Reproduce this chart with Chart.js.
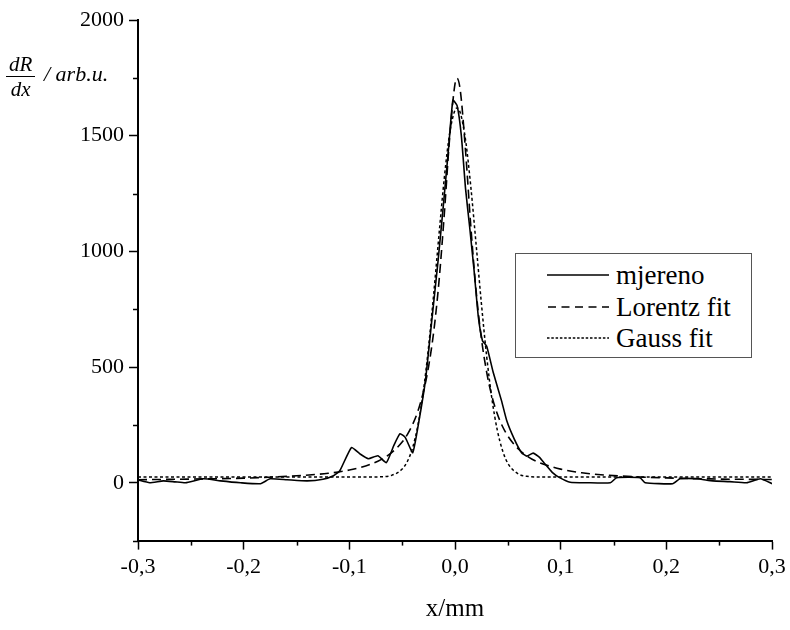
<!DOCTYPE html>
<html><head><meta charset="utf-8">
<script src="https://cdn.jsdelivr.net/npm/chart.js@4.4.0/dist/chart.umd.min.js"></script>
<style>
html,body{margin:0;padding:0;background:#fff;}
#wrap{position:relative;width:790px;height:630px;overflow:hidden;}
#c{position:absolute;left:0;top:0;}
.serif{font-family:"Liberation Serif",Tinos,"Times New Roman","DejaVu Serif",serif;color:#000;}
#frac{position:absolute;left:6px;top:53px;font-style:italic;font-size:21px;text-align:center;line-height:22px;}
#frac .num{border-bottom:1.3px solid #000;padding:0 3px 1px 3px;}
#frac .den{padding-top:1px;}
#unit{position:absolute;left:44px;top:61px;font-style:italic;font-size:22px;white-space:nowrap;}
#legend{position:absolute;left:515px;top:253px;width:237px;height:105px;border:1.5px solid #555;box-sizing:border-box;background:#fff;}
.row{position:absolute;left:31px;height:30px;display:flex;align-items:center;font-size:27px;white-space:nowrap;}
.row svg{margin-right:7px;}
</style></head>
<body>
<div id="wrap">
<canvas id="c" width="790" height="630"></canvas>
<div id="frac" class="serif"><div class="num">dR</div><div class="den">dx</div></div>
<div id="unit" class="serif">/ arb.u.</div>
<div id="legend" class="serif">
  <div class="row" style="top:6px;"><svg width="62" height="10"><line x1="0" y1="5" x2="62" y2="5" stroke="#000" stroke-width="1.6"/></svg>mjereno</div>
  <div class="row" style="top:38px;"><svg width="62" height="10"><line x1="1" y1="5" x2="62" y2="5" stroke="#000" stroke-width="1.6" stroke-dasharray="8,5.5"/></svg>Lorentz fit</div>
  <div class="row" style="top:69px;"><svg width="62" height="10"><line x1="0" y1="5" x2="62" y2="5" stroke="#000" stroke-width="1.5" stroke-dasharray="2.5,1.8"/></svg>Gauss fit</div>
</div>
</div>
<script>
// ---- data ----
const seriesNames = ['mjereno', 'Lorentz fit', 'Gauss fit'];
const xMeasured = [-0.300,-0.289,-0.276,-0.265,-0.255,-0.238,-0.222,-0.203,-0.184,-0.175,-0.159,-0.140,-0.125,-0.115,-0.109,-0.098,-0.090,-0.082,-0.073,-0.065,-0.058,-0.052,-0.047,-0.040,-0.034,-0.028,-0.022,-0.016,-0.011,-0.006,-0.002,0.002,0.006,0.010,0.014,0.018,0.022,0.026,0.030,0.036,0.044,0.049,0.056,0.063,0.068,0.074,0.080,0.085,0.092,0.099,0.109,0.125,0.147,0.153,0.175,0.180,0.206,0.213,0.229,0.244,0.260,0.276,0.289,0.300];
const yMeasured = [12,0,8,4,0,17,8,0,-4,17,13,8,15,30,52,152,125,104,117,87,160,212,195,130,270,441,700,960,1200,1450,1654,1630,1500,1270,1100,920,720,614,590,480,355,268,190,130,115,128,110,82,45,22,2,0,0,22,22,0,-4,17,17,8,5,0,17,-4];
const xFit = [-0.3,-0.25,-0.2,-0.15,-0.12,-0.1,-0.08,-0.07,-0.06,-0.05,-0.045,-0.04,-0.035,-0.03,-0.025,-0.02,-0.015,-0.01,-0.005,0,0.002,0.005,0.01,0.015,0.02,0.025,0.03,0.035,0.04,0.045,0.05,0.06,0.07,0.08,0.1,0.12,0.15,0.2,0.25,0.3];
const yLorentz = [13,16,20,30,41,55,80,100,130,176,209,253,311,391,502,658,878,1169,1495,1724,1748,1696,1433,1106,828,623,477,373,298,243,202,146,110,87,59,43,31,21,16,14];
const yGauss = [25,25,25,25,25,25,25,26,32,59,93,153,251,394,588,824,1080,1323,1512,1611,1620,1599,1481,1278,1029,774,545,361,228,139,84,38,27,25,25,25,25,25,25,25];
const xTickMin = -0.3, xTickMax = 0.3, xTickStep = 0.05;
const yTickMin = -250, yTickMax = 2000, yTickStep = 250;
const xTitle = 'x/mm';

const pts = (xs, ys) => xs.map((x, i) => ({x: x, y: ys[i]}));
const FONT = '"Liberation Serif", Tinos, "Times New Roman", "DejaVu Serif", serif';

const minorTicks = {
  id: 'minorTicks',
  afterDraw(chart) {
    const ctx = chart.ctx;
    ctx.save();
    ctx.strokeStyle = '#000';
    ctx.lineWidth = 1.5;
    const xs = chart.scales.x, ys = chart.scales.y;
    xs.ticks.forEach(t => {
      if (t.label === '' ) {
        const p = Math.round(xs.getPixelForValue(t.value)) + 0.5;
        ctx.beginPath(); ctx.moveTo(p, xs.top); ctx.lineTo(p, xs.top + 5); ctx.stroke();
      }
    });
    ys.ticks.forEach(t => {
      if (t.label === '') {
        const p = Math.round(ys.getPixelForValue(t.value)) + 0.5;
        ctx.beginPath(); ctx.moveTo(ys.right, p); ctx.lineTo(ys.right - 5, p); ctx.stroke();
      }
    });
    ctx.restore();
  }
};

function draw() {
new Chart(document.getElementById('c'), {
  type: 'line',
  data: {
    datasets: [
      {label: seriesNames[0], data: pts(xMeasured, yMeasured), borderColor: '#000', borderWidth: 1.6, pointRadius: 0, tension: 0.15, fill: false},
      {label: seriesNames[1], data: pts(xFit, yLorentz), borderColor: '#000', borderWidth: 1.6, borderDash: [9, 5], pointRadius: 0, cubicInterpolationMode: 'monotone', fill: false},
      {label: seriesNames[2], data: pts(xFit, yGauss), borderColor: '#000', borderWidth: 1.5, borderDash: [3, 2.5], pointRadius: 0, cubicInterpolationMode: 'monotone', fill: false}
    ]
  },
  options: {
    responsive: false,
    animation: false,
    layout: {padding: {top: 20, right: 18, left: 0, bottom: 6}},
    plugins: {legend: {display: false}, tooltip: {enabled: false}},
    scales: {
      x: {
        type: 'linear', min: xTickMin, max: xTickMax,
        ticks: {
          stepSize: xTickStep, autoSkip: false, maxRotation: 0, padding: 4,
          color: '#000', font: {family: FONT, size: 22},
          callback: v => { const k = Math.round(v * 100); return k % 10 === 0 ? (k / 100).toFixed(1).replace('.', ',') : ''; }
        },
        grid: {drawOnChartArea: false, drawTicks: true, tickLength: 9, tickWidth: 1.5,
               tickColor: c => (c.tick && c.tick.label !== '') ? '#000' : 'rgba(0,0,0,0)'},
        border: {display: true, color: '#000', width: 2},
        title: {display: true, text: xTitle, color: '#000', font: {family: FONT, size: 25}, padding: {top: 10, bottom: 0}}
      },
      y: {
        type: 'linear', min: yTickMin, max: yTickMax,
        ticks: {
          stepSize: yTickStep, autoSkip: false, padding: 5,
          color: '#000', font: {family: FONT, size: 22},
          callback: v => (v % 500 === 0 ? String(v) : '')
        },
        grid: {drawOnChartArea: false, drawTicks: true, tickLength: 9, tickWidth: 1.5,
               tickColor: c => (c.tick && c.tick.label !== '') ? '#000' : 'rgba(0,0,0,0)'},
        border: {display: true, color: '#000', width: 2},
        afterFit: s => { s.width = 138; }
      }
    }
  },
  plugins: [minorTicks]
});
}
if (document.fonts && document.fonts.load) {
  Promise.all([
    document.fonts.load('20px "Liberation Serif"'),
    document.fonts.load('italic 20px "Liberation Serif"')
  ]).then(draw, draw);
} else { draw(); }
</script>
</body></html>
